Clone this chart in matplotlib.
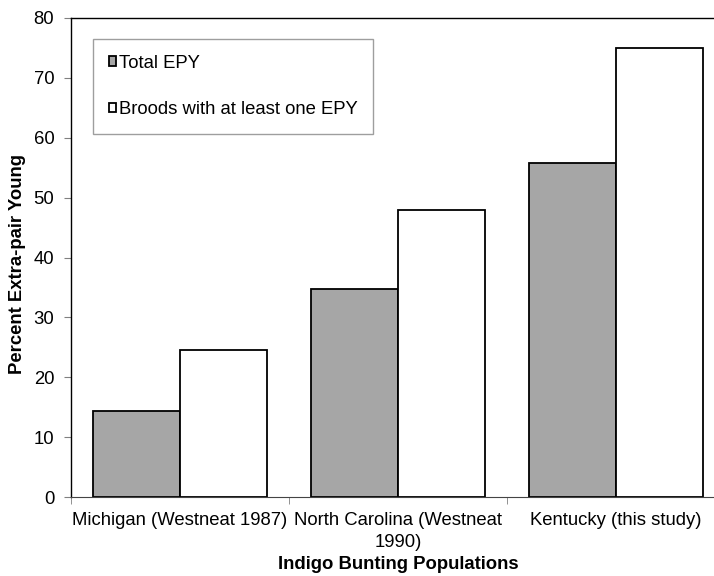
import matplotlib as mpl
import matplotlib.pyplot as plt
import numpy as np

mpl.rcParams.update(
    {
        "font.family": ["Liberation Sans", "DejaVu Sans"],
        "font.size": 13.3,
    }
)

populations = ["Michigan (Westneat 1987)", "North Carolina (Westneat\n1990)", "Kentucky (this study)"]
total_epy = [14.4, 34.8, 55.7]
broods_epy = [24.5, 48.0, 75.0]
series_labels = ["Total EPY", "Broods with at least one EPY"]
yticks = [0, 10, 20, 30, 40, 50, 60, 70, 80]

GRAY = "#a6a6a6"
W = 0.4

fig = plt.figure(figsize=(7.14, 5.76), dpi=100)
ax = fig.add_axes([71 / 714, 79 / 576, 654 / 714, 479 / 576])

x = np.arange(len(populations)) + 0.5
b1 = ax.bar(x - W / 2, total_epy, W, color=GRAY, edgecolor="black", linewidth=1.3, label=series_labels[0])
b2 = ax.bar(x + W / 2, broods_epy, W, color="white", edgecolor="black", linewidth=1.3, label=series_labels[1])

ax.set_xlim(0, len(populations))
ax.set_ylim(0, 80)
ax.set_yticks(yticks)
ax.set_xticks(x)
ax.set_xticklabels(populations, linespacing=1.35)
ax.set_xticks(np.arange(len(populations) + 1), minor=True)
ax.tick_params(axis="x", which="major", length=0, pad=11)
ax.tick_params(axis="x", which="minor", length=5, color="#808080")
ax.tick_params(axis="y", length=5, color="#808080", pad=7)

for s in ("top", "right", "left"):
    ax.spines[s].set_color("black")
    ax.spines[s].set_linewidth(1.0)
ax.spines["bottom"].set_color("#444444")

ax.set_xlabel("Indigo Bunting Populations", fontsize=13.3, fontweight="bold", labelpad=4)
ax.set_ylabel("Percent Extra-pair Young", fontsize=13.3, fontweight="bold")
ax.yaxis.set_label_coords(-0.069, 0.487)

leg = ax.legend(
    handles=[b1, b2],
    loc="upper left",
    bbox_to_anchor=(22 / 654, 458 / 479),
    borderaxespad=0,
    fancybox=False,
    edgecolor="#868686",
    handlelength=0.4,
    handleheight=0.4,
    handletextpad=0.15,
    labelspacing=1.6,
    borderpad=0.85,
    fontsize=13.3,
)
leg.get_frame().set_linewidth(1.0)

fig.savefig("out.png", dpi=100)
